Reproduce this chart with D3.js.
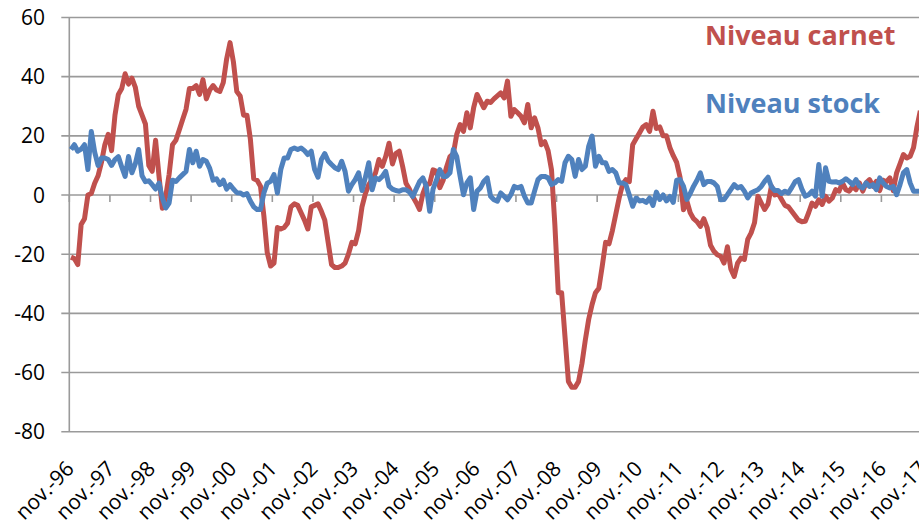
<!DOCTYPE html>
<meta charset="utf-8">
<head>
  <title>Niveau carnet / Niveau stock</title>
</head>

<style>
body { margin: 0; background: #fff; }
svg { display: block; font-family: "Open Sans", sans-serif; }
.grid line { stroke: #9a9a9a; stroke-width: 1.6; }
.lbl { font-size: 21px; fill: #000; }
</style>

<body>
  <svg width="919" height="526"></svg>

  <script src="https://cdnjs.cloudflare.com/ajax/libs/d3/7.8.5/d3.min.js"></script>

  <script>
// monthly series, nov. 1996 -> oct. 2017
var carnet = [
  -21, -21.5, -23.5, -10, -8, 0, 0.5, 4, 6.5, 11, 17, 20.5,
  15, 27, 34, 36, 41, 37.5, 39.5, 36.5, 30, 27, 24, 10,
  8, 18.5, 6.5, -4.5, -0.5, 7, 17, 18.5, 22, 25.5, 29, 36,
  36, 37, 34, 39, 32.5, 35.5, 37, 35.5, 35, 38, 46, 51.5,
  45, 35, 33.5, 27, 27, 19, 5.5, 5, 3, -7, -19.5, -24,
  -23, -11, -11.5, -11, -9.5, -4, -3, -3.5, -6, -8.5, -11.5, -4,
  -3.5, -3, -5.5, -8.5, -16, -23.5, -24.5, -24.5, -24, -23, -20, -16,
  -16.5, -12, -4, 0.5, 3.5, 5.2, 7.5, 12, 9.7, 13, 17.5, 10.5,
  14, 14.8, 9.7, 4, 2, -0.5, -2.5, -4.9, 0.5, 3.5, 3.8, 8.5,
  8, 2.5, 5, 9.5, 13, 14, 20.5, 23.8, 21.5, 27.8, 22.7, 29.5,
  34, 31.7, 29.5, 31.7, 31.3, 32.5, 33.5, 34.5, 32.8, 38.5, 26.6, 28.9,
  27.8, 26.6, 24.4, 30.6, 22.7, 26.1, 22.7, 17, 18, 15, 8.6, -10,
  -33, -33, -48, -63, -65, -65, -63, -57, -49, -42, -37, -33,
  -31.5, -24, -16, -16.5, -12, -6.5, -1, 3.5, 5.2, 4.5, 17, 19,
  21, 23, 23.8, 21.5, 28.3, 22.5, 23, 20, 20, 16, 13.3, 11,
  6, -5, -2, -6, -8, -9, -10.6, -8, -11, -17, -19, -20.2,
  -20.7, -23, -17.5, -25, -27.5, -23, -21.3, -21.8, -15, -12.8, -9.4, -0.4,
  -2.7, -4.9, -3, 3, 0, 0.5, -1.5, -3.5, -4, -5.5, -7, -8.5,
  -9, -8.9, -6, -2.7, -3.8, -1.6, -3.2, -0.4, -2.1, -1, 1.8, 1.3,
  4.1, 1.8, 1.3, 2.9, 1.8, 4.1, 1.3, 4.1, 5.2, 2.9, 4.6, 1.5,
  5, 4.5, 5.8, 1.5, 7.5, 10.5, 13.7, 12.5, 13.1, 16, 23, 28.5
]

var stock = [
  15.4, 17, 14.8, 15.5, 17, 8.6, 21.5, 14.5, 10, 12.5, 12.5, 12,
  10, 12, 13, 9.5, 6.3, 13, 7.5, 10.5, 15.4, 6.5, 4.5, 4.8,
  3.5, 2, 4, -1, -4.4, -2.7, 5, 4.6, 5.8, 6.9, 8, 15.4,
  10.9, 14.8, 9.7, 12, 11.4, 9, 5, 5.5, 3.5, 5, 2, 3.5,
  2, 0.8, 0.7, 0, 0.5, -2, -4, -4.9, -4.9, 0.7, 4, 4.6,
  6.9, 0.7, 8.6, 12.5, 12.5, 15.4, 15.9, 15.4, 15.9, 15, 13.7, 14.8,
  8.6, 6, 12, 14, 11.5, 10.3, 9.2, 8.6, 11.4, 8, 1.3, 3.5,
  5.2, 7.5, 1.5, 6, 10.9, 1.8, 5.8, 5.2, 6.3, 8, 3, 2,
  1.5, 1.3, 1.8, 1.8, 1, -0.5, 2, 4.5, 5.8, 3, -5.5, 2,
  5, 8.6, 6.3, 6.3, 7.5, 15.4, 13, 6.3, 0.1, 4.1, 5.8, -4.9,
  1.3, 2.4, 4.6, 5.8, -0.4, -1.6, -2.1, 0.7, -0.4, -1.6, 0.1, 2.9,
  2.4, 2.9, -0.4, -2.7, -2.7, 1.3, 5.2, 6.3, 6.3, 5.8, 3.5, 4.1,
  5.2, 4.6, 10.9, 13.1, 12, 6.3, 12, 8.6, 9.7, 16.5, 19.9, 9.7,
  13.1, 10.9, 10.9, 8, 8.6, 7.5, 4.1, 4.1, 3.5, 0, -3.8, -1,
  -2, -1.8, -2.5, -1, -3.5, 1, -1.5, 0, -2, -0.5, -2.5, 5,
  5.2, 3, -1.5, 0.5, 3, 5, 7.5, 3.5, 4.6, 4.6, 4.1, 2.9,
  -1.6, -1.5, 0.1, 1.8, 3.5, 2.4, 2.9, 1.3, -1, 0.7, 1.3, 1.8,
  2.9, 4.6, 6, 2.8, 1.5, 1.5, 0.5, 1.3, 0.7, 2.5, 4.5, 5.2,
  2, -0.4, 0.1, 1.3, -0.4, 10.3, -0.4, 9.2, 4.6, 4.4, 4.5, 4.1,
  4.6, 5.5, 4.6, 3.5, 5.2, 3, 2.4, 4.1, 2.9, 3.5, 1.8, 5.8,
  4.1, 2.9, 2.4, 2.9, 0.1, 3.5, 7.5, 8.6, 4.1, 1.3, 1.3, 1.3
]

var yTicks = [-80, -60, -40, -20, 0, 20, 40, 60]
var xLabels = ['nov.-96', 'nov.-97', 'nov.-98', 'nov.-99', 'nov.-00', 'nov.-01',
  'nov.-02', 'nov.-03', 'nov.-04', 'nov.-05', 'nov.-06', 'nov.-07', 'nov.-08',
  'nov.-09', 'nov.-10', 'nov.-11', 'nov.-12', 'nov.-13', 'nov.-14', 'nov.-15',
  'nov.-16', 'nov.-17']
var seriesNames = ['Niveau carnet', 'Niveau stock']
var colors = ['#c0504d', '#4f81bd']

var svg = d3.select('svg')

var left = 69.3, right = 922
var x = d3.scaleLinear().domain([0, 252]).range([left, right])
var y = d3.scaleLinear().domain([-80, 60]).range([431.7, 17.5])

// horizontal gridlines (+ small ticks left of the axis)
var grid = svg.append('g').attr('class', 'grid')
grid.selectAll('line.h')
  .data(yTicks)
  .enter().append('line')
  .attr('class', 'h')
  .attr('x1', left - 8).attr('x2', 919)
  .attr('y1', function(d) { return y(d) })
  .attr('y2', function(d) { return y(d) })

// vertical axis
grid.append('line')
  .attr('x1', left).attr('x2', left)
  .attr('y1', y(60)).attr('y2', y(-80))

// year ticks hanging from the zero line
grid.selectAll('line.t')
  .data(xLabels)
  .enter().append('line')
  .attr('class', 't')
  .attr('x1', function(d, i) { return x(i * 12) })
  .attr('x2', function(d, i) { return x(i * 12) })
  .attr('y1', y(0)).attr('y2', y(0) + 7)

svg.selectAll('text.ylab')
  .data(yTicks)
  .enter().append('text')
  .attr('class', 'lbl ylab')
  .attr('x', 45)
  .attr('y', function(d) { return y(d) + 7.5 })
  .attr('text-anchor', 'end')
  .text(function(d) { return d })

svg.selectAll('text.xlab')
  .data(xLabels)
  .enter().append('text')
  .attr('class', 'lbl xlab')
  .attr('text-anchor', 'end')
  .attr('transform', function(d, i) {
    return 'translate(' + (x(i * 12) + 6) + ',470) rotate(-45)'
  })
  .text(function(d) { return d })

var line = d3.line()
  .x(function(d, i) { return x(i + 0.5) })
  .y(function(d) { return y(d) })

;[carnet, stock].forEach(function(s, k) {
  svg.append('path')
    .datum(s)
    .attr('d', line)
    .attr('fill', 'none')
    .attr('stroke', colors[k])
    .attr('stroke-width', 5)
    .attr('stroke-linejoin', 'round')
})

svg.selectAll('text.leg')
  .data(seriesNames)
  .enter().append('text')
  .attr('class', 'leg')
  .attr('x', 705)
  .attr('y', function(d, i) { return i ? 112.5 : 45 })
  .attr('fill', function(d, i) { return colors[i] })
  .style('font-size', '27px')
  .style('font-weight', 'bold')
  .text(function(d) { return d })
  </script>
</body>
</html>
